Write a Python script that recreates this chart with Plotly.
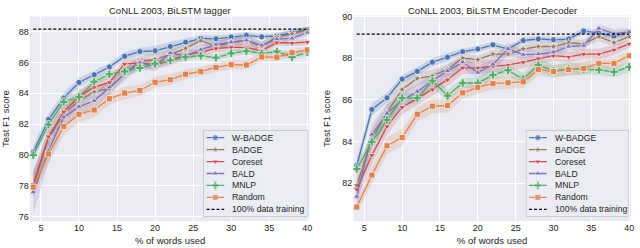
import plotly.graph_objects as go

# ---------------- data ----------------
pct_words = [4, 6, 8, 10, 12, 14, 16, 18, 20, 22, 24, 26, 28, 30, 32, 34, 36, 38, 40]
x_ticks = [5, 10, 15, 20, 25, 30, 35, 40]
methods = ["W-BADGE", "BADGE", "Coreset", "BALD", "MNLP", "Random"]
ref_label = "100% data training"

# left: CoNLL 2003, BiLSTM tagger
wbadge_L = [80.2, 82.3, 83.7, 84.7, 85.2, 85.7, 86.4, 86.7, 86.75, 87.03, 87.3, 87.55, 87.52, 87.64, 87.75, 87.65, 87.72, 87.92, 88.13]
badge_L = [78.0, 81.1, 82.7, 83.5, 84.1, 84.3, 85.3, 86.05, 86.2, 86.5, 86.9, 87.4, 87.05, 87.3, 87.4, 87.03, 87.65, 87.85, 88.1]
coreset_L = [78.1, 81.2, 82.8, 83.8, 84.4, 84.7, 85.9, 85.97, 85.85, 86.1, 86.5, 86.65, 86.9, 86.97, 86.97, 86.75, 87.28, 87.25, 87.32]
bald_L = [77.6, 80.3, 82.45, 83.13, 83.51, 84.39, 85.23, 85.97, 85.76, 86.61, 86.4, 86.82, 87.15, 87.3, 87.43, 87.1, 87.5, 87.55, 87.92]
mnlp_L = [80.0, 81.97, 83.44, 83.76, 84.75, 85.23, 85.41, 85.64, 85.91, 86.13, 86.34, 86.43, 86.3, 86.58, 86.73, 86.58, 86.7, 86.34, 86.65]
random_L = [77.92, 80.07, 81.85, 82.64, 82.92, 83.65, 84.01, 84.18, 84.71, 84.88, 85.23, 85.41, 85.67, 85.85, 85.83, 86.35, 86.33, 86.63, 86.8]
full_L = 88.15

ci_wbadge_L = [0.45, 0.35, 0.3, 0.3, 0.25, 0.25, 0.25, 0.25, 0.3, 0.3, 0.25, 0.2, 0.2, 0.2, 0.2, 0.15, 0.15, 0.2, 0.2]
ci_badge_L = [0.8, 0.6, 0.5, 0.45, 0.4, 0.4, 0.35, 0.35, 0.35, 0.3, 0.3, 0.3, 0.3, 0.3, 0.3, 0.3, 0.25, 0.25, 0.2]
ci_coreset_L = [0.9, 0.6, 0.5, 0.4, 0.35, 0.35, 0.3, 0.3, 0.3, 0.3, 0.25, 0.25, 0.25, 0.25, 0.25, 0.25, 0.2, 0.2, 0.2]
ci_bald_L = [1.4, 0.8, 0.6, 0.5, 0.5, 0.45, 0.4, 0.35, 0.35, 0.3, 0.3, 0.3, 0.25, 0.25, 0.25, 0.25, 0.25, 0.2, 0.2]
ci_mnlp_L = [0.35, 0.3, 0.3, 0.3, 0.25, 0.25, 0.25, 0.25, 0.25, 0.25, 0.25, 0.2, 0.2, 0.2, 0.2, 0.2, 0.2, 0.2, 0.2]
ci_random_L = [0.6, 0.6, 0.55, 0.5, 0.45, 0.4, 0.4, 0.35, 0.35, 0.35, 0.3, 0.3, 0.3, 0.3, 0.3, 0.25, 0.25, 0.25, 0.2]

# right: CoNLL 2003, BiLSTM Encoder-Decoder
wbadge_R = [82.85, 85.54, 86.1, 87.0, 87.37, 87.81, 88.05, 88.31, 88.44, 88.64, 88.44, 88.85, 88.92, 88.88, 88.92, 89.31, 89.2, 89.05, 89.25]
badge_R = [81.9, 84.1, 85.4, 86.5, 87.03, 87.15, 87.46, 88.01, 87.93, 88.2, 88.2, 88.44, 88.56, 88.56, 88.75, 88.69, 89.03, 88.75, 89.03]
coreset_R = [81.71, 83.35, 84.73, 85.65, 86.06, 86.5, 86.97, 87.54, 87.54, 87.62, 87.67, 87.81, 87.98, 88.12, 88.06, 88.2, 88.2, 88.4, 88.69]
bald_R = [81.36, 84.34, 85.35, 85.98, 86.4, 86.92, 87.39, 87.81, 87.31, 87.7, 88.44, 88.17, 88.2, 88.28, 88.56, 88.6, 89.42, 89.19, 89.25]
mnlp_R = [82.69, 83.99, 85.04, 86.09, 86.09, 86.92, 86.2, 86.81, 86.81, 87.2, 87.42, 87.0, 87.67, 87.39, 87.5, 87.47, 87.44, 87.34, 87.58]
random_R = [80.86, 82.39, 83.8, 84.2, 85.31, 85.7, 85.73, 86.34, 86.6, 86.79, 86.82, 86.87, 87.46, 87.36, 87.46, 87.51, 87.75, 87.75, 88.12]
full_R = 89.15

ci_wbadge_R = [0.35, 0.3, 0.25, 0.2, 0.2, 0.2, 0.2, 0.15, 0.15, 0.15, 0.15, 0.15, 0.15, 0.15, 0.15, 0.15, 0.15, 0.15, 0.15]
ci_badge_R = [0.5, 0.45, 0.4, 0.35, 0.3, 0.3, 0.25, 0.2, 0.2, 0.2, 0.2, 0.2, 0.2, 0.2, 0.2, 0.2, 0.2, 0.2, 0.15]
ci_coreset_R = [0.5, 0.45, 0.4, 0.35, 0.3, 0.3, 0.3, 0.3, 0.3, 0.3, 0.3, 0.3, 0.3, 0.25, 0.25, 0.25, 0.25, 0.25, 0.2]
ci_bald_R = [0.5, 0.5, 0.45, 0.4, 0.35, 0.35, 0.3, 0.3, 0.3, 0.3, 0.3, 0.25, 0.2, 0.2, 0.2, 0.2, 0.2, 0.2, 0.2]
ci_mnlp_R = [0.3, 0.3, 0.3, 0.25, 0.25, 0.3, 0.3, 0.25, 0.25, 0.25, 0.25, 0.3, 0.3, 0.3, 0.3, 0.25, 0.25, 0.25, 0.25]
ci_random_R = [0.3, 0.4, 0.4, 0.4, 0.35, 0.35, 0.35, 0.3, 0.3, 0.3, 0.3, 0.3, 0.3, 0.3, 0.3, 0.3, 0.3, 0.3, 0.25]

# ---------------- style ----------------
colors = ["#4C72B0", "#937860", "#C44E52", "#8172B3", "#55A868", "#DD8452"]
symbols = ["circle", "star", "triangle-down", "triangle-up", "cross", "square"]
msizes = [6, 6, 6, 6, 7, 6]
FONT = "Liberation Sans, Arial, sans-serif"
TXT = "#262626"
BG = "#EAEAF2"
W, H = 640, 248


def rgba(hexc, a):
    h = hexc.lstrip("#")
    return "rgba(%d,%d,%d,%s)" % (int(h[0:2], 16), int(h[2:4], 16), int(h[4:6], 16), a)


def px_x(p):
    return p / W


def px_y(p):
    return 1 - p / H


fig = go.Figure()

panels = [
    ("x", "y", [wbadge_L, badge_L, coreset_L, bald_L, mnlp_L, random_L],
     [ci_wbadge_L, ci_badge_L, ci_coreset_L, ci_bald_L, ci_mnlp_L, ci_random_L], full_L),
    ("x2", "y2", [wbadge_R, badge_R, coreset_R, bald_R, mnlp_R, random_R],
     [ci_wbadge_R, ci_badge_R, ci_coreset_R, ci_bald_R, ci_mnlp_R, ci_random_R], full_R),
]

for xa, ya, series, cis, full in panels:
    for vals, ci, c in zip(series, cis, colors):
        upper = [v + e for v, e in zip(vals, ci)]
        lower = [v - e for v, e in zip(vals, ci)]
        fig.add_trace(go.Scatter(
            x=pct_words + pct_words[::-1], y=upper + lower[::-1],
            fill="toself", fillcolor=rgba(c, 0.2), line=dict(width=0),
            mode="lines", hoverinfo="skip", showlegend=False, xaxis=xa, yaxis=ya))
    for name, vals, c, s, ms in zip(methods, series, colors, symbols, msizes):
        fig.add_trace(go.Scatter(
            x=pct_words, y=vals, name=name, mode="lines+markers",
            line=dict(color=c, width=1.3),
            marker=dict(symbol=s, size=ms, color=c, line=dict(color="white", width=0.6)),
            showlegend=False, xaxis=xa, yaxis=ya))
    fig.add_trace(go.Scatter(
        x=[pct_words[0], pct_words[-1]], y=[full, full], mode="lines",
        line=dict(color="black", width=1.2, dash="3px,2px"),
        name=ref_label, showlegend=False, xaxis=xa, yaxis=ya))

# ---------------- custom legends (inset axes) ----------------
leg_names = methods + [ref_label]
leg_axes = [("x3", "y3", 106), ("x4", "y4", 104)]
for xa, ya, wbox in leg_axes:
    fig.add_trace(go.Scatter(
        x=[0, wbox, wbox, 0, 0], y=[-0.6, -0.6, 6.6, 6.6, -0.6], mode="lines",
        fill="toself", fillcolor="rgba(236,236,244,0.92)",
        line=dict(color="#CCCCCC", width=1), hoverinfo="skip", showlegend=False,
        xaxis=xa, yaxis=ya))
    for i, name in enumerate(leg_names):
        if i < len(methods):
            fig.add_trace(go.Scatter(
                x=[3, 12, 21], y=[i, i, i], mode="lines+markers",
                line=dict(color=colors[i], width=1.3),
                marker=dict(symbol=symbols[i], size=[0, msizes[i], 0], color=colors[i],
                            line=dict(color="white", width=0.6)),
                showlegend=False, hoverinfo="skip", xaxis=xa, yaxis=ya))
        else:
            fig.add_trace(go.Scatter(
                x=[3, 21], y=[i, i], mode="lines",
                line=dict(color="black", width=1.2, dash="3px,2px"),
                showlegend=False, hoverinfo="skip", xaxis=xa, yaxis=ya))
        fig.add_annotation(x=27, y=i, xref=xa, yref=ya, text=name, showarrow=False,
                           xanchor="left", yanchor="middle",
                           font=dict(family=FONT, size=8.7, color=TXT))

# ---------------- axes ----------------
common_x = dict(range=[3.55, 40.25], tickvals=x_ticks, showgrid=True, gridcolor="white",
                gridwidth=1, zeroline=False, showline=False, ticks="",
                tickfont=dict(family=FONT, size=9, color=TXT))
common_y = dict(showgrid=True, gridcolor="white", gridwidth=1, zeroline=False,
                showline=False, ticks="", tickfont=dict(family=FONT, size=9, color=TXT))

ybot = px_y(221.7)
fig.update_layout(
    xaxis=dict(domain=[px_x(30), px_x(310.7)], anchor="y", **common_x),
    yaxis=dict(domain=[ybot, px_y(12.7)], anchor="x", range=[75.72, 88.97],
               tickvals=[76, 78, 80, 82, 84, 86, 88], **common_y),
    xaxis2=dict(domain=[px_x(355), px_x(634)], anchor="y2", **common_x),
    yaxis2=dict(domain=[ybot, px_y(11.7)], anchor="x2", range=[80.18, 90.05],
                tickvals=[82, 84, 86, 88, 90], **common_y),
    xaxis3=dict(domain=[px_x(204), px_x(310)], anchor="y3", range=[-0.5, 106.5],
                visible=False, fixedrange=True),
    yaxis3=dict(domain=[px_y(217.5), px_y(128.5)], anchor="x3", range=[6.65, -0.65],
                visible=False, fixedrange=True),
    xaxis4=dict(domain=[px_x(528), px_x(632)], anchor="y4", range=[-0.5, 104.5],
                visible=False, fixedrange=True),
    yaxis4=dict(domain=[px_y(217.5), px_y(128.5)], anchor="x4", range=[6.65, -0.65],
                visible=False, fixedrange=True),
    width=W, height=H, margin=dict(l=0, r=0, t=0, b=0),
    paper_bgcolor="white", plot_bgcolor=BG, showlegend=False,
    font=dict(family=FONT, size=9, color=TXT),
)

# titles and axis labels
for cx, title in [((30 + 310.7) / 2, "CoNLL 2003, BiLSTM tagger"),
                  ((355 + 634) / 2, "CoNLL 2003, BiLSTM Encoder-Decoder")]:
    fig.add_annotation(x=px_x(cx), y=px_y(6.5), xref="paper", yref="paper", text=title,
                       showarrow=False, xanchor="center", yanchor="middle",
                       font=dict(family=FONT, size=9.5, color=TXT))
    fig.add_annotation(x=px_x(cx), y=px_y(241.5), xref="paper", yref="paper",
                       text="% of words used", showarrow=False, xanchor="center",
                       yanchor="middle", font=dict(family=FONT, size=9.5, color=TXT))
for lx in [5.5, 328]:
    fig.add_annotation(x=px_x(lx), y=px_y(117), xref="paper", yref="paper",
                       text="Test F1 score", showarrow=False, textangle=-90,
                       xanchor="center", yanchor="middle",
                       font=dict(family=FONT, size=9.5, color=TXT))

fig.write_html("out.html", config={"displayModeBar": False},
               post_script="document.body.style.margin='0px';")
